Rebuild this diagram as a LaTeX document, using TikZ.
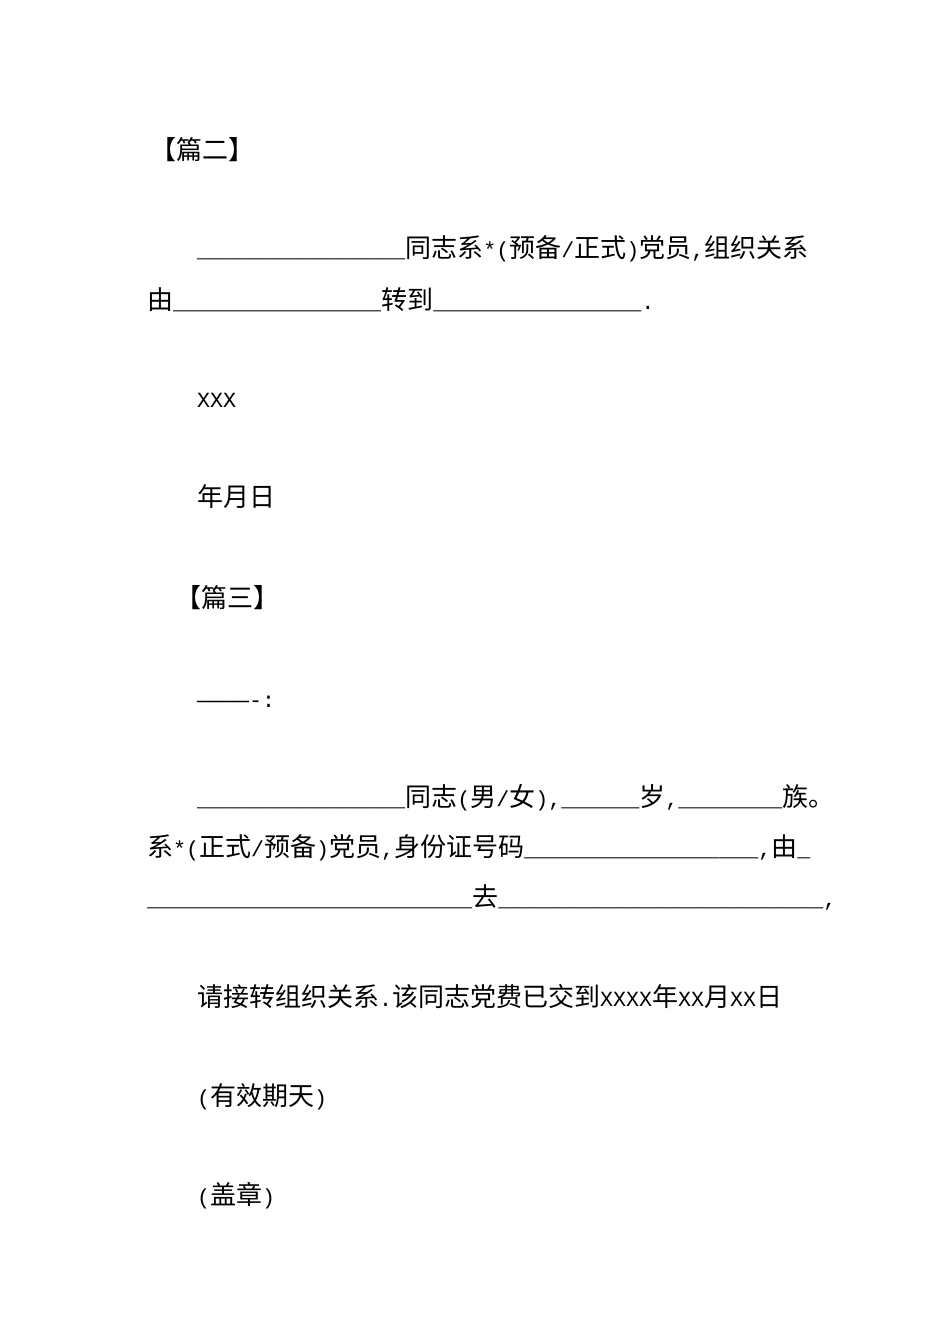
\documentclass[tikz,border=0pt]{standalone}
\usepackage{fontspec}
\setmainfont{Liberation Mono}
\newfontfamily\cjk{Noto Sans CJK SC}
\newcommand\C[1]{{\fontsize{26}{30}\cjk #1}}
\tikzset{ln/.style={anchor=base west,inner sep=0pt,font=\fontsize{21.67}{26}\selectfont}}
\begin{document}
\begin{tikzpicture}[x=1pt,y=-1pt]
\useasboundingbox[fill=white] (0,0) rectangle (950,1344);
\node[ln] (a) at (150,159) {\C{【篇二】}};
\node[ln] (b) at (197,257) {\_\_\_\_\_\_\_\_\_\_\_\_\_\_\_\_\C{同志系}*(\C{预备}/\C{正式})\C{党员},\C{组织关系}};
\node[ln] (c) at (147,309) {\C{由}\_\_\_\_\_\_\_\_\_\_\_\_\_\_\_\_\C{转到}\_\_\_\_\_\_\_\_\_\_\_\_\_\_\_\_.};
\node[ln] (d) at (197,407) {XXX};
\node[ln] (e) at (197,506) {\C{年月日}};
\node[ln] (f) at (175,607) {\C{【篇三】}};
\node[ln] (g) at (197,707) {-------------:};
\node[ln] (h) at (197,806) {\_\_\_\_\_\_\_\_\_\_\_\_\_\_\_\_\C{同志}(\C{男}/\C{女}),\_\_\_\_\_\_\C{岁},\_\_\_\_\_\_\_\_\C{族。}};
\node[ln] (i) at (147,856) {\C{系}*(\C{正式}/\C{预备})\C{党员},\C{身份证号码}\_\_\_\_\_\_\_\_\_\_\_\_\_\_\_\_\_\_,\C{由}\_};
\node[ln] (j) at (147,906) {\_\_\_\_\_\_\_\_\_\_\_\_\_\_\_\_\_\_\_\_\_\_\_\_\_\C{去}\_\_\_\_\_\_\_\_\_\_\_\_\_\_\_\_\_\_\_\_\_\_\_\_\_,};
\node[ln] (k) at (197,1006) {\C{请接转组织关系}.\C{该同志党费已交到}XXXX\C{年}XX\C{月}XX\C{日}};
\node[ln] (l) at (197,1105) {(\C{有效期天})};
\node[ln] (m) at (197,1204) {(\C{盖章})};
\end{tikzpicture}
\end{document}
